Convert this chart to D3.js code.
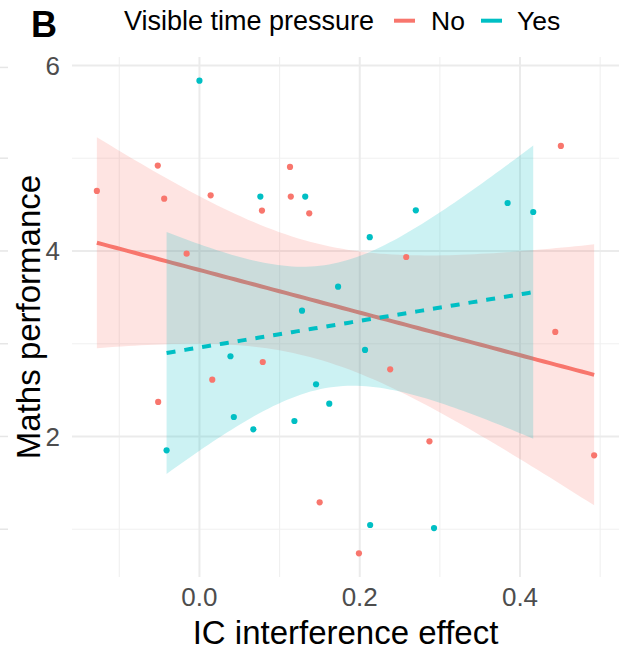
<!DOCTYPE html>
<html>
<head>
<meta charset="utf-8">
<script src="https://cdn.jsdelivr.net/npm/d3@7"></script>
<style>
  html, body { margin: 0; padding: 0; background: #fff; }
  svg { display: block; font-family: "Liberation Sans", Arial, Helvetica, sans-serif; }
</style>
</head>
<body>
<svg id="chart" width="628" height="651"></svg>
<script>
// Maths performance vs. IC interference effect, split by visible time pressure
const groups = ["No", "Yes"];
const groupColors = ["#F8766D", "#00BFC4"];

const noX = [-0.128, -0.052, -0.044, 0.014, 0.078, 0.113, 0.114, 0.137, -0.016, 0.451,
             0.258, 0.079, 0.016, -0.0515, 0.150, 0.444, 0.238, 0.287, 0.4925, 0.199];
const noY = [4.647, 4.920, 4.564, 4.600, 4.435, 4.906, 4.586, 4.406, 3.971, 5.132,
             3.935, 2.803, 2.612, 2.372, 1.290, 3.127, 2.724, 1.948, 1.797, 0.740];

const yesX = [0.000, 0.076, 0.132, 0.128, 0.2125, 0.270, 0.3845, 0.4165, 0.173, 0.0387,
              0.1455, 0.0429, 0.0673, 0.1185, -0.041, 0.2066, 0.162, 0.213, 0.2927];
const yesY = [5.836, 4.586, 4.586, 3.356, 4.148, 4.438, 4.517, 4.420, 3.615, 2.865,
              2.563, 2.210, 2.077, 2.167, 1.851, 2.933, 2.354, 1.046, 1.013];

const xTicks = [0.0, 0.2, 0.4];
const xTickLabels = ["0.0", "0.2", "0.4"];
const xMinor = [-0.1, 0.1, 0.3, 0.5];
const yTicks = [2, 4, 6];
const yTickLabels = ["2", "4", "6"];
const yMinor = [1, 3, 5];

const seriesX = [noX, yesX];
const seriesY = [noY, yesY];

const svg = d3.select("#chart");
const panel = { left: 72, right: 619, top: 57, bottom: 577 };

// continuous scales with 5% expansion on each side
function expanded(values) {
  const [lo, hi] = d3.extent(values);
  const pad = (hi - lo) * 0.05;
  return [lo - pad, hi + pad];
}
const x = d3.scaleLinear().domain(expanded(noX.concat(yesX))).range([panel.left, panel.right]);
const y = d3.scaleLinear().domain(expanded(noY.concat(yesY))).range([panel.bottom, panel.top]);

// gridlines
const grid = svg.append("g");
grid.selectAll(".xminor").data(xMinor).join("line")
  .attr("x1", d => x(d)).attr("x2", d => x(d))
  .attr("y1", panel.top).attr("y2", panel.bottom)
  .attr("stroke", "#f0f0f0").attr("stroke-width", 1.1);
grid.selectAll(".yminor").data(yMinor).join("line")
  .attr("x1", panel.left).attr("x2", panel.right)
  .attr("y1", d => y(d)).attr("y2", d => y(d))
  .attr("stroke", "#f0f0f0").attr("stroke-width", 1.1);
grid.selectAll(".xmajor").data(xTicks).join("line")
  .attr("x1", d => x(d)).attr("x2", d => x(d))
  .attr("y1", panel.top).attr("y2", panel.bottom)
  .attr("stroke", "#ebebeb").attr("stroke-width", 2);
grid.selectAll(".ymajor").data(yTicks).join("line")
  .attr("x1", panel.left).attr("x2", panel.right)
  .attr("y1", d => y(d)).attr("y2", d => y(d))
  .attr("stroke", "#ebebeb").attr("stroke-width", 2);
// edge of the neighbouring panel's grid
grid.selectAll(".edge").data(yTicks.concat(yMinor)).join("line")
  .attr("x1", 0).attr("x2", 8)
  .attr("y1", d => y(d) + (d === 6 ? 2 : 0)).attr("y2", d => y(d) + (d === 6 ? 2 : 0))
  .attr("stroke", "#e6e6e6").attr("stroke-width", 1.5);

// t quantile (0.975) via Cornish-Fisher expansion
function tCrit(df) {
  const z = 1.959964;
  const z3 = z ** 3, z5 = z ** 5, z7 = z ** 7;
  return z + (z3 + z) / (4 * df)
    + (5 * z5 + 16 * z3 + 3 * z) / (96 * df * df)
    + (3 * z7 + 19 * z5 + 17 * z3 - 15 * z) / (384 * df ** 3);
}

// ordinary least squares fit with 95% confidence band
function lmFit(xs, ys, n = 80) {
  const m = xs.length;
  const mx = d3.mean(xs), my = d3.mean(ys);
  let sxx = 0, sxy = 0;
  xs.forEach((v, i) => { sxx += (v - mx) ** 2; sxy += (v - mx) * (ys[i] - my); });
  const b = sxy / sxx, a = my - b * mx;
  let sse = 0;
  xs.forEach((v, i) => { sse += (ys[i] - (a + b * v)) ** 2; });
  const s = Math.sqrt(sse / (m - 2));
  const t = tCrit(m - 2);
  const [lo, hi] = d3.extent(xs);
  return d3.range(n).map(k => {
    const xv = lo + (hi - lo) * k / (n - 1);
    const fit = a + b * xv;
    const se = s * Math.sqrt(1 / m + (xv - mx) ** 2 / sxx);
    return { x: xv, fit, lo: fit - t * se, hi: fit + t * se };
  });
}

const area = d3.area().x(d => x(d.x)).y0(d => y(d.lo)).y1(d => y(d.hi));
const line = d3.line().x(d => x(d.x)).y(d => y(d.fit));

const smooth = svg.append("g");
groups.forEach((g, i) => {
  const fit = lmFit(seriesX[i], seriesY[i]);
  smooth.append("path").datum(fit).attr("d", area)
    .attr("fill", groupColors[i]).attr("fill-opacity", 0.2);
  smooth.append("path").datum(fit).attr("d", line)
    .attr("fill", "none").attr("stroke", groupColors[i]).attr("stroke-width", 4)
    .attr("stroke-dasharray", i === 1 ? "9,9" : null);
});

// points
const pts = svg.append("g");
groups.forEach((g, i) => {
  pts.selectAll(".p" + i).data(d3.range(seriesX[i].length)).join("circle")
    .attr("cx", k => x(seriesX[i][k])).attr("cy", k => y(seriesY[i][k]))
    .attr("r", 3.1).attr("fill", groupColors[i]);
});

// axis tick labels
svg.append("g").selectAll("text").data(xTicks).join("text")
  .attr("x", d => x(d)).attr("y", 606)
  .attr("text-anchor", "middle").attr("font-size", 26).attr("fill", "#4d4d4d")
  .text((d, i) => xTickLabels[i]);
svg.append("g").selectAll("text").data(yTicks).join("text")
  .attr("x", 60).attr("y", d => y(d) + 9.5)
  .attr("text-anchor", "end").attr("font-size", 26).attr("fill", "#4d4d4d")
  .text((d, i) => yTickLabels[i]);

// axis titles
svg.append("text")
  .attr("x", (panel.left + panel.right) / 2).attr("y", 644)
  .attr("text-anchor", "middle").attr("font-size", 33).attr("fill", "#000")
  .text("IC interference effect");
svg.append("text")
  .attr("transform", `translate(40,${(panel.top + panel.bottom) / 2}) rotate(-90)`)
  .attr("text-anchor", "middle").attr("font-size", 33).attr("fill", "#000")
  .text("Maths performance");

// panel tag
svg.append("text").attr("x", 31).attr("y", 37)
  .attr("font-size", 36).attr("font-weight", "bold").attr("fill", "#000").text("B");

// legend
const legend = svg.append("g");
legend.append("text").attr("x", 124).attr("y", 30)
  .attr("font-size", 27).attr("fill", "#000").text("Visible time pressure");
const keyX = [394, 481], labelX = [431, 517];
groups.forEach((g, i) => {
  legend.append("line")
    .attr("x1", keyX[i]).attr("x2", keyX[i] + 21)
    .attr("y1", 20.7).attr("y2", 20.7)
    .attr("stroke", groupColors[i]).attr("stroke-width", 4);
  legend.append("text").attr("x", labelX[i]).attr("y", 30)
    .attr("font-size", 26.5).attr("fill", "#000").text(g);
});
</script>
</body>
</html>
